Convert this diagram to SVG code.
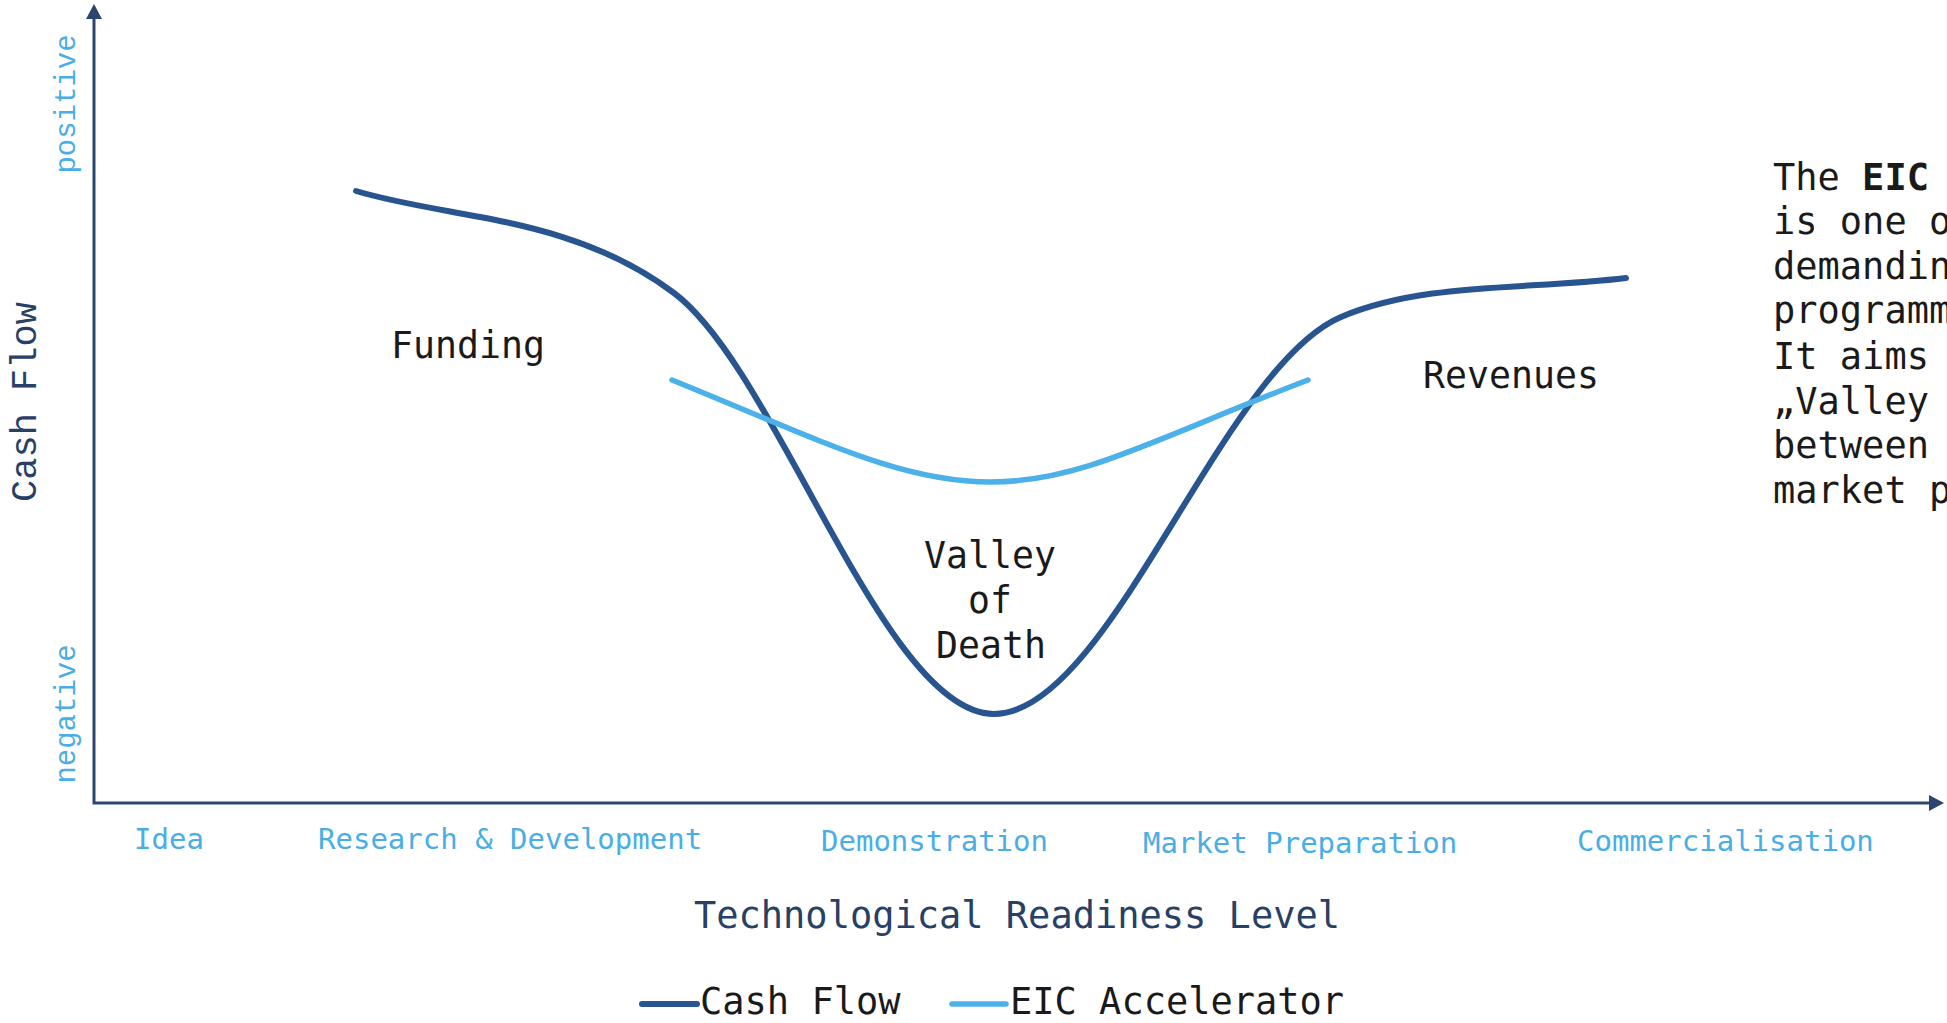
<svg xmlns="http://www.w3.org/2000/svg" width="1947" height="1023" viewBox="0 0 1947 1023">
<style>
.mono{font-family:"DejaVu Sans Mono","Liberation Mono",monospace;}
.rot{font-family:"Liberation Mono","DejaVu Sans Mono",monospace;}
.stage{font-size:29px;fill:#4aaee6;}
.pole{font-size:29px;fill:#4aaee6;}
.axisTitle{font-size:37px;fill:#283f66;}
.label{font-size:36.5px;fill:#1a1a1a;}
.body{font-size:37px;fill:#1a1a1a;}
.legendText{font-size:37px;fill:#1a1a1a;}
.cash{fill:none;stroke:#28548f;stroke-width:6;stroke-linecap:round;stroke-linejoin:round;}
.eic{fill:none;stroke:#4cb1e8;stroke-width:5.5;stroke-linecap:round;stroke-linejoin:round;}
.axis{fill:none;stroke:#2c4670;stroke-width:3;}
</style>
<defs>
<marker id="arrow" markerUnits="userSpaceOnUse" markerWidth="16" markerHeight="18" refX="0" refY="8" orient="auto-start-reverse" viewBox="0 0 16 16">
<path d="M0,0 L15,8 L0,16 z" fill="#2c4670"/>
</marker>
</defs>
<rect width="1947" height="1023" fill="#ffffff"/>

<g id="axes">
<path class="axis" d="M94,19 L94,803 L1929,803" marker-start="url(#arrow)" marker-end="url(#arrow)"/>
<text class="rot axisTitle" text-anchor="middle" transform="translate(36,402) rotate(-90)">Cash Flow</text>
<text class="rot pole" text-anchor="middle" transform="translate(75,104) rotate(-90)">positive</text>
<text class="rot pole" text-anchor="middle" transform="translate(75,714) rotate(-90)">negative</text>
<text class="mono axisTitle" x="1017" y="928" text-anchor="middle">Technological Readiness Level</text>
</g>

<g id="stages">
<text class="mono stage" x="134" y="849">Idea</text>
<text class="mono stage" x="318" y="849">Research &amp; Development</text>
<text class="mono stage" x="821" y="851">Demonstration</text>
<text class="mono stage" x="1143" y="853">Market Preparation</text>
<text class="mono stage" x="1577" y="851">Commercialisation</text>
</g>

<g id="connectors">
<path id="cashflow-curve" class="cash" d="M356,191 C451.8,219.7 570,215 674,293 C778,371 884,714 994,714 C1109,714 1221.4,367.7 1341,317 C1423.8,281.9 1527,290 1626,278"/>
<path id="eic-curve" class="eic" d="M672,380 C820,440 900,482 991,482 C1082,482 1156,438 1308,380"/>
</g>

<g id="funding">
<text class="mono label" x="468" y="358" text-anchor="middle">Funding</text>
</g>
<g id="revenues">
<text class="mono label" x="1511" y="388" text-anchor="middle">Revenues</text>
</g>
<g id="valley">
<text class="mono label" text-anchor="middle"><tspan x="990" y="568">Valley</tspan><tspan x="990" y="613">of</tspan><tspan x="991" y="658">Death</tspan></text>
</g>

<g id="description">
<text class="mono body" x="1773">
<tspan x="1773" y="190">The <tspan font-weight="bold">EIC</tspan></tspan>
<tspan x="1773" y="234">is one o</tspan>
<tspan x="1773" y="279">demandin</tspan>
<tspan x="1773" y="323">programm</tspan>
<tspan x="1773" y="369">It aims</tspan>
<tspan x="1773" y="414">„Valley</tspan>
<tspan x="1773" y="458">between</tspan>
<tspan x="1773" y="503">market p</tspan>
</text>
</g>

<g id="legend">
<line x1="642" y1="1004" x2="697" y2="1004" class="cash"/>
<text class="mono legendText" x="700" y="1014">Cash Flow</text>
<line x1="952" y1="1004" x2="1006" y2="1004" class="eic" stroke-width="6"/>
<text class="mono legendText" x="1010" y="1014">EIC Accelerator</text>
</g>
</svg>
